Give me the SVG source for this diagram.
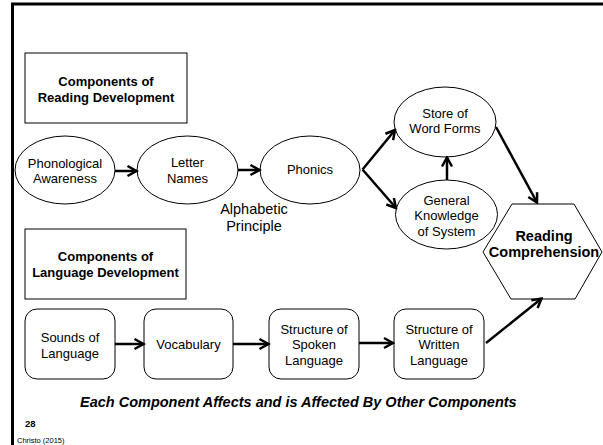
<svg xmlns="http://www.w3.org/2000/svg" width="603" height="445" viewBox="0 0 603 445">
<style>
text{font-family:"Liberation Sans",Arial,sans-serif;fill:#000}
.n{font-size:13px;text-anchor:middle}
.b{font-size:13px;font-weight:bold;text-anchor:middle}
.shape{fill:#fff;stroke:#000;stroke-width:1}
.arr{fill:none;stroke:#000;stroke-width:2.5;marker-end:url(#ah)}
</style>
<defs>
<marker id="ah" markerUnits="userSpaceOnUse" viewBox="-12 -8 14 16" refX="0" refY="0" markerWidth="14" markerHeight="16" orient="auto">
<path d="M-9,-5 L0,0 L-9,5" fill="none" stroke="#000" stroke-width="2.5" stroke-linejoin="miter"/>
</marker>
</defs>
<rect width="603" height="445" fill="#fff"/>
<g id="frame">
<path d="M12.5,445 V4 H603" fill="none" stroke="#000" stroke-width="3"/>
</g>
<g id="reading-title">
<rect class="shape" x="25" y="53" width="162" height="70"/>
<text class="b" x="106" y="85.5">Components of</text>
<text class="b" x="106" y="101.5">Reading Development</text>
</g>
<g id="phonological">
<ellipse class="shape" cx="65" cy="170" rx="50" ry="34"/>
<text class="n" x="65" y="167.5">Phonological</text>
<text class="n" x="65" y="182.5">Awareness</text>
</g>
<g id="letter-names">
<ellipse class="shape" cx="187.5" cy="170" rx="50.5" ry="34"/>
<text class="n" x="187.5" y="167">Letter</text>
<text class="n" x="187.5" y="183">Names</text>
</g>
<g id="phonics">
<ellipse class="shape" cx="310" cy="170" rx="50" ry="34"/>
<text class="n" x="310" y="174">Phonics</text>
</g>
<g id="alphabetic-principle">
<text x="254" y="214" style="font-size:14.5px;text-anchor:middle">Alphabetic</text>
<text x="254" y="231" style="font-size:14.5px;text-anchor:middle">Principle</text>
</g>
<g id="store">
<ellipse class="shape" cx="445" cy="122" rx="51" ry="35"/>
<text class="n" x="445" y="118">Store of</text>
<text class="n" x="445" y="133">Word Forms</text>
</g>
<g id="general">
<ellipse class="shape" cx="446.5" cy="214.5" rx="51" ry="34.5"/>
<text class="n" x="446.5" y="205">General</text>
<text class="n" x="446.5" y="220">Knowledge</text>
<text class="n" x="446.5" y="235.5">of System</text>
</g>
<g id="reading-comprehension">
<polygon class="shape" points="483,252 512,204 574,204 602,252 575,299 511,299"/>
<text x="544" y="241" style="font-size:14.5px;font-weight:bold;text-anchor:middle">Reading</text>
<text x="544" y="257" style="font-size:14.5px;font-weight:bold;text-anchor:middle">Comprehension</text>
</g>
<g id="language-title">
<rect class="shape" x="25" y="229" width="161" height="70"/>
<text class="b" x="105.5" y="260.5">Components of</text>
<text class="b" x="105.5" y="276.5">Language Development</text>
</g>
<g id="sounds">
<rect class="shape" x="25" y="309" width="90" height="70" rx="12"/>
<text class="n" x="70" y="341.5">Sounds of</text>
<text class="n" x="70" y="357.5">Language</text>
</g>
<g id="vocabulary">
<rect class="shape" x="144" y="309" width="89" height="70" rx="12"/>
<text class="n" x="188.5" y="348.5">Vocabulary</text>
</g>
<g id="spoken">
<rect class="shape" x="269" y="309" width="90" height="70" rx="12"/>
<text class="n" x="314" y="333.5">Structure of</text>
<text class="n" x="314" y="348.5">Spoken</text>
<text class="n" x="314" y="364.5">Language</text>
</g>
<g id="written">
<rect class="shape" x="394" y="309" width="90" height="70" rx="12"/>
<text class="n" x="439" y="333.5">Structure of</text>
<text class="n" x="439" y="348.5">Written</text>
<text class="n" x="439" y="364.5">Language</text>
</g>
<g id="connectors">
<line class="arr" x1="115" y1="171" x2="136.5" y2="171"/>
<line class="arr" x1="238" y1="170" x2="259.5" y2="170"/>
<line class="arr" x1="362.5" y1="169.5" x2="395" y2="130"/>
<line class="arr" x1="362.5" y1="169.5" x2="396" y2="208"/>
<line class="arr" x1="447" y1="180" x2="447" y2="157.5"/>
<line class="arr" x1="496" y1="127" x2="537" y2="202.5"/>
<line class="arr" x1="115" y1="344" x2="143.5" y2="344"/>
<line class="arr" x1="233" y1="344" x2="268.5" y2="344"/>
<line class="arr" x1="359" y1="343" x2="393" y2="343"/>
<line class="arr" x1="486" y1="343" x2="541.5" y2="298.5"/>
</g>
<g id="footer">
<text x="80" y="407" style="font-size:14.5px;font-weight:bold;font-style:italic">Each Component Affects and is Affected By Other Components</text>
<text x="25" y="427" style="font-size:9.5px;font-weight:bold">28</text>
<text x="17" y="442.5" style="font-size:7.5px">Christo (2015)</text>
</g>
</svg>
